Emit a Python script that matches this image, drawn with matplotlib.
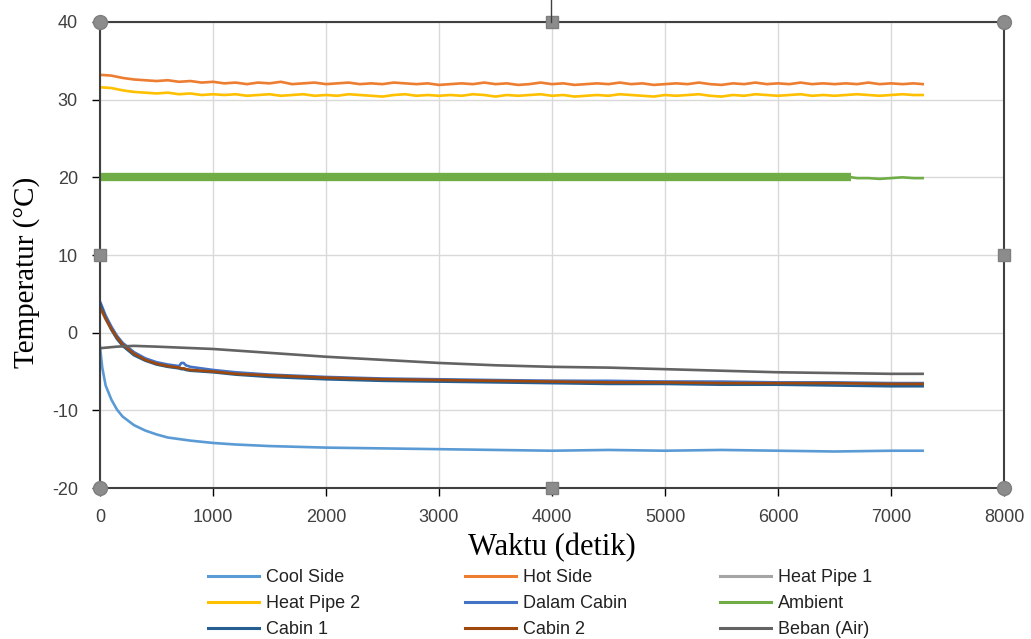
import matplotlib
matplotlib.use("Agg")
import matplotlib.pyplot as plt

plt.rcParams["axes.unicode_minus"] = False

# sampling grid (seconds) for the noisy hot/heat-pipe traces
t_grid = list(range(0, 7201, 100)) + [7280]

hot_side = [33.2, 33.1, 32.8, 32.6, 32.5, 32.4, 32.5, 32.3, 32.4, 32.2,
            32.3, 32.1, 32.2, 32.0, 32.2, 32.1, 32.3, 32.0, 32.1, 32.2,
            32.0, 32.1, 32.2, 32.0, 32.1, 32.0, 32.2, 32.1, 32.0, 32.1,
            31.9, 32.0, 32.1, 32.0, 32.2, 32.0, 32.1, 31.9, 32.0, 32.2,
            32.0, 32.1, 31.9, 32.0, 32.1, 32.0, 32.2, 32.0, 32.1, 31.9,
            32.0, 32.1, 32.0, 32.2, 32.0, 31.9, 32.1, 32.0, 32.2, 32.0,
            32.1, 32.0, 32.2, 32.0, 32.1, 32.0, 32.1, 32.0, 32.2, 32.0,
            32.1, 32.0, 32.1, 32.0]

heat_pipe_2 = [31.6, 31.5, 31.2, 31.0, 30.9, 30.8, 30.9, 30.7, 30.8, 30.6,
               30.7, 30.6, 30.7, 30.5, 30.6, 30.7, 30.5, 30.6, 30.7, 30.5,
               30.6, 30.5, 30.7, 30.6, 30.5, 30.4, 30.6, 30.7, 30.5, 30.6,
               30.5, 30.6, 30.5, 30.7, 30.6, 30.4, 30.6, 30.5, 30.6, 30.7,
               30.5, 30.6, 30.4, 30.5, 30.6, 30.5, 30.7, 30.6, 30.5, 30.4,
               30.6, 30.5, 30.6, 30.7, 30.5, 30.4, 30.6, 30.5, 30.7, 30.6,
               30.5, 30.6, 30.7, 30.5, 30.6, 30.5, 30.6, 30.7, 30.6, 30.5,
               30.6, 30.7, 30.6, 30.6]

t_cool = [0, 20, 50, 100, 150, 200, 300, 400, 500, 600, 800, 1000, 1200, 1500,
          2000, 2500, 3000, 3500, 4000, 4500, 5000, 5500, 6000, 6500, 7000, 7280]
cool_side = [-1.8, -4.5, -6.8, -8.6, -9.9, -10.8, -11.9, -12.6, -13.1, -13.5,
             -13.9, -14.2, -14.4, -14.6, -14.8, -14.9, -15.0, -15.1, -15.2,
             -15.1, -15.2, -15.1, -15.2, -15.3, -15.2, -15.2]

t_cabin = [0, 20, 50, 100, 150, 200, 300, 400, 500, 600, 700, 720, 740, 760, 800,
           1000, 1200, 1500, 2000, 2500, 3000, 3500, 4000, 4500, 5000, 5500,
           6000, 6500, 7000, 7280]
dalam_cabin = [4.0, 3.3, 2.2, 0.8, -0.4, -1.3, -2.5, -3.3, -3.8, -4.1, -4.3, -3.9,
               -3.9, -4.2, -4.4, -4.8, -5.1, -5.4, -5.7, -5.9, -6.0, -6.1, -6.2,
               -6.2, -6.3, -6.3, -6.4, -6.4, -6.5, -6.5]
cabin_1 = [3.8, 3.0, 1.9, 0.4, -0.8, -1.7, -2.9, -3.6, -4.1, -4.4, -4.6, -4.7,
           -4.7, -4.8, -4.9, -5.1, -5.4, -5.7, -6.0, -6.2, -6.3, -6.4, -6.5,
           -6.6, -6.6, -6.7, -6.7, -6.8, -6.9, -6.9]
heat_pipe_1 = [3.2, 2.6, 1.7, 0.4, -0.7, -1.6, -2.8, -3.5, -4.0, -4.3, -4.5, -4.6,
               -4.6, -4.7, -4.8, -5.0, -5.3, -5.5, -5.8, -6.0, -6.1, -6.2, -6.2,
               -6.3, -6.3, -6.4, -6.4, -6.5, -6.5, -6.5]
cabin_2 = [3.3, 2.7, 1.8, 0.5, -0.6, -1.5, -2.7, -3.5, -4.0, -4.3, -4.5, -4.6,
           -4.6, -4.7, -4.8, -5.0, -5.3, -5.5, -5.8, -6.0, -6.1, -6.2, -6.3,
           -6.4, -6.4, -6.5, -6.5, -6.5, -6.6, -6.6]

t_beban = [0, 150, 300, 500, 1000, 1500, 2000, 2500, 3000, 3500, 4000, 4500,
           5000, 5500, 6000, 6500, 7000, 7280]
beban = [-2.0, -1.8, -1.7, -1.8, -2.1, -2.6, -3.1, -3.5, -3.9, -4.2, -4.4, -4.5,
         -4.7, -4.9, -5.1, -5.2, -5.3, -5.3]

# ambient: dense noisy band up to ~6650 s, then a thin trace
t_amb_band = [0, 6650]
amb_band = [20.1, 20.1]
t_amb = [6650, 6700, 6800, 6900, 7000, 7100, 7200, 7280]
ambient = [20.0, 19.9, 19.9, 19.8, 19.9, 20.0, 19.9, 19.9]

colors = {
    "Cool Side": "#5B9BD5", "Hot Side": "#ED7D31", "Heat Pipe 1": "#A5A5A5",
    "Heat Pipe 2": "#FFC000", "Dalam Cabin": "#4472C4", "Ambient": "#70AD47",
    "Cabin 1": "#255E91", "Cabin 2": "#9E480E", "Beban (Air)": "#636363",
}

fig = plt.figure(figsize=(10.31, 6.39), dpi=100)
ax = fig.add_axes([100 / 1031, 1 - 488 / 639, 904 / 1031, 466 / 639])

lw = 1.9
h = {}
h["Cool Side"], = ax.plot(t_cool, cool_side, color=colors["Cool Side"], lw=lw)
h["Hot Side"], = ax.plot(t_grid, hot_side, color=colors["Hot Side"], lw=lw)
h["Heat Pipe 1"], = ax.plot(t_cabin, heat_pipe_1, color=colors["Heat Pipe 1"], lw=lw)
h["Heat Pipe 2"], = ax.plot(t_grid, heat_pipe_2, color=colors["Heat Pipe 2"], lw=lw)
h["Dalam Cabin"], = ax.plot(t_cabin, dalam_cabin, color=colors["Dalam Cabin"], lw=lw)
h["Ambient"], = ax.plot(t_amb, ambient, color=colors["Ambient"], lw=lw)
ax.plot(t_amb_band, amb_band, color=colors["Ambient"], lw=6, solid_capstyle="butt")
h["Cabin 1"], = ax.plot(t_cabin, cabin_1, color=colors["Cabin 1"], lw=lw)
h["Cabin 2"], = ax.plot(t_cabin, cabin_2, color=colors["Cabin 2"], lw=lw)
h["Beban (Air)"], = ax.plot(t_beban, beban, color=colors["Beban (Air)"], lw=lw)

ax.set_xlim(0, 8000)
ax.set_ylim(-20, 40)
ax.set_xticks(range(0, 8001, 1000))
ax.set_yticks(range(-20, 41, 10))
ax.grid(True, color="#D9D9D9", lw=1)
ax.set_axisbelow(True)
for s in ax.spines.values():
    s.set_color("#404040")
    s.set_linewidth(1.5)
ax.tick_params(labelsize=13, length=6, width=1, colors="black")
ax.tick_params(axis="x", pad=9)
ax.tick_params(axis="y", pad=10)
for lab in ax.get_xticklabels() + ax.get_yticklabels():
    lab.set_family("Liberation Sans")
    lab.set_color("#404040")

ax.set_xlabel("Waktu (detik)", family="Liberation Serif", fontsize=22)
ax.set_ylabel("Temperatur (°C)", family="Liberation Serif", fontsize=21)
ax.xaxis.set_label_coords(0.5, -0.096)
ax.yaxis.set_label_coords(-0.066, 0.463)

# selection handles of the chart frame
ax.plot([0, 8000, 0, 8000], [40, 40, -20, -20], "o", ms=10, color="#8C8C8C",
        mec="#7F7F7F", clip_on=False, zorder=5)
ax.plot([4000, 4000, 0, 8000], [40, -20, 10, 10], "s", ms=8, color="#8C8C8C",
        mec="#7F7F7F", clip_on=False, zorder=5)
fig.add_artist(plt.Line2D([551 / 1031, 551 / 1031], [1 - 22 / 639, 1.0],
                          color="#404040", lw=1))

# legend: three columns, row-major order as in the reference
legend_cols = [["Cool Side", "Heat Pipe 2", "Cabin 1"],
               ["Hot Side", "Dalam Cabin", "Cabin 2"],
               ["Heat Pipe 1", "Ambient", "Beban (Air)"]]
col_x = [208, 465, 720]
for names, x0 in zip(legend_cols, col_x):
    leg = fig.legend([h[n] for n in names], names, loc="upper left",
                     bbox_to_anchor=(x0 / 1031, 1 - 569 / 639), frameon=False,
                     borderpad=0, borderaxespad=0, handlelength=2.8,
                     handletextpad=0.4, labelspacing=0.5,
                     prop={"family": "Liberation Sans", "size": 13})
    for ln in leg.get_lines():
        ln.set_linewidth(2.2)
    for t in leg.get_texts():
        t.set_color("#222222")

fig.savefig("out.png", dpi=100)
